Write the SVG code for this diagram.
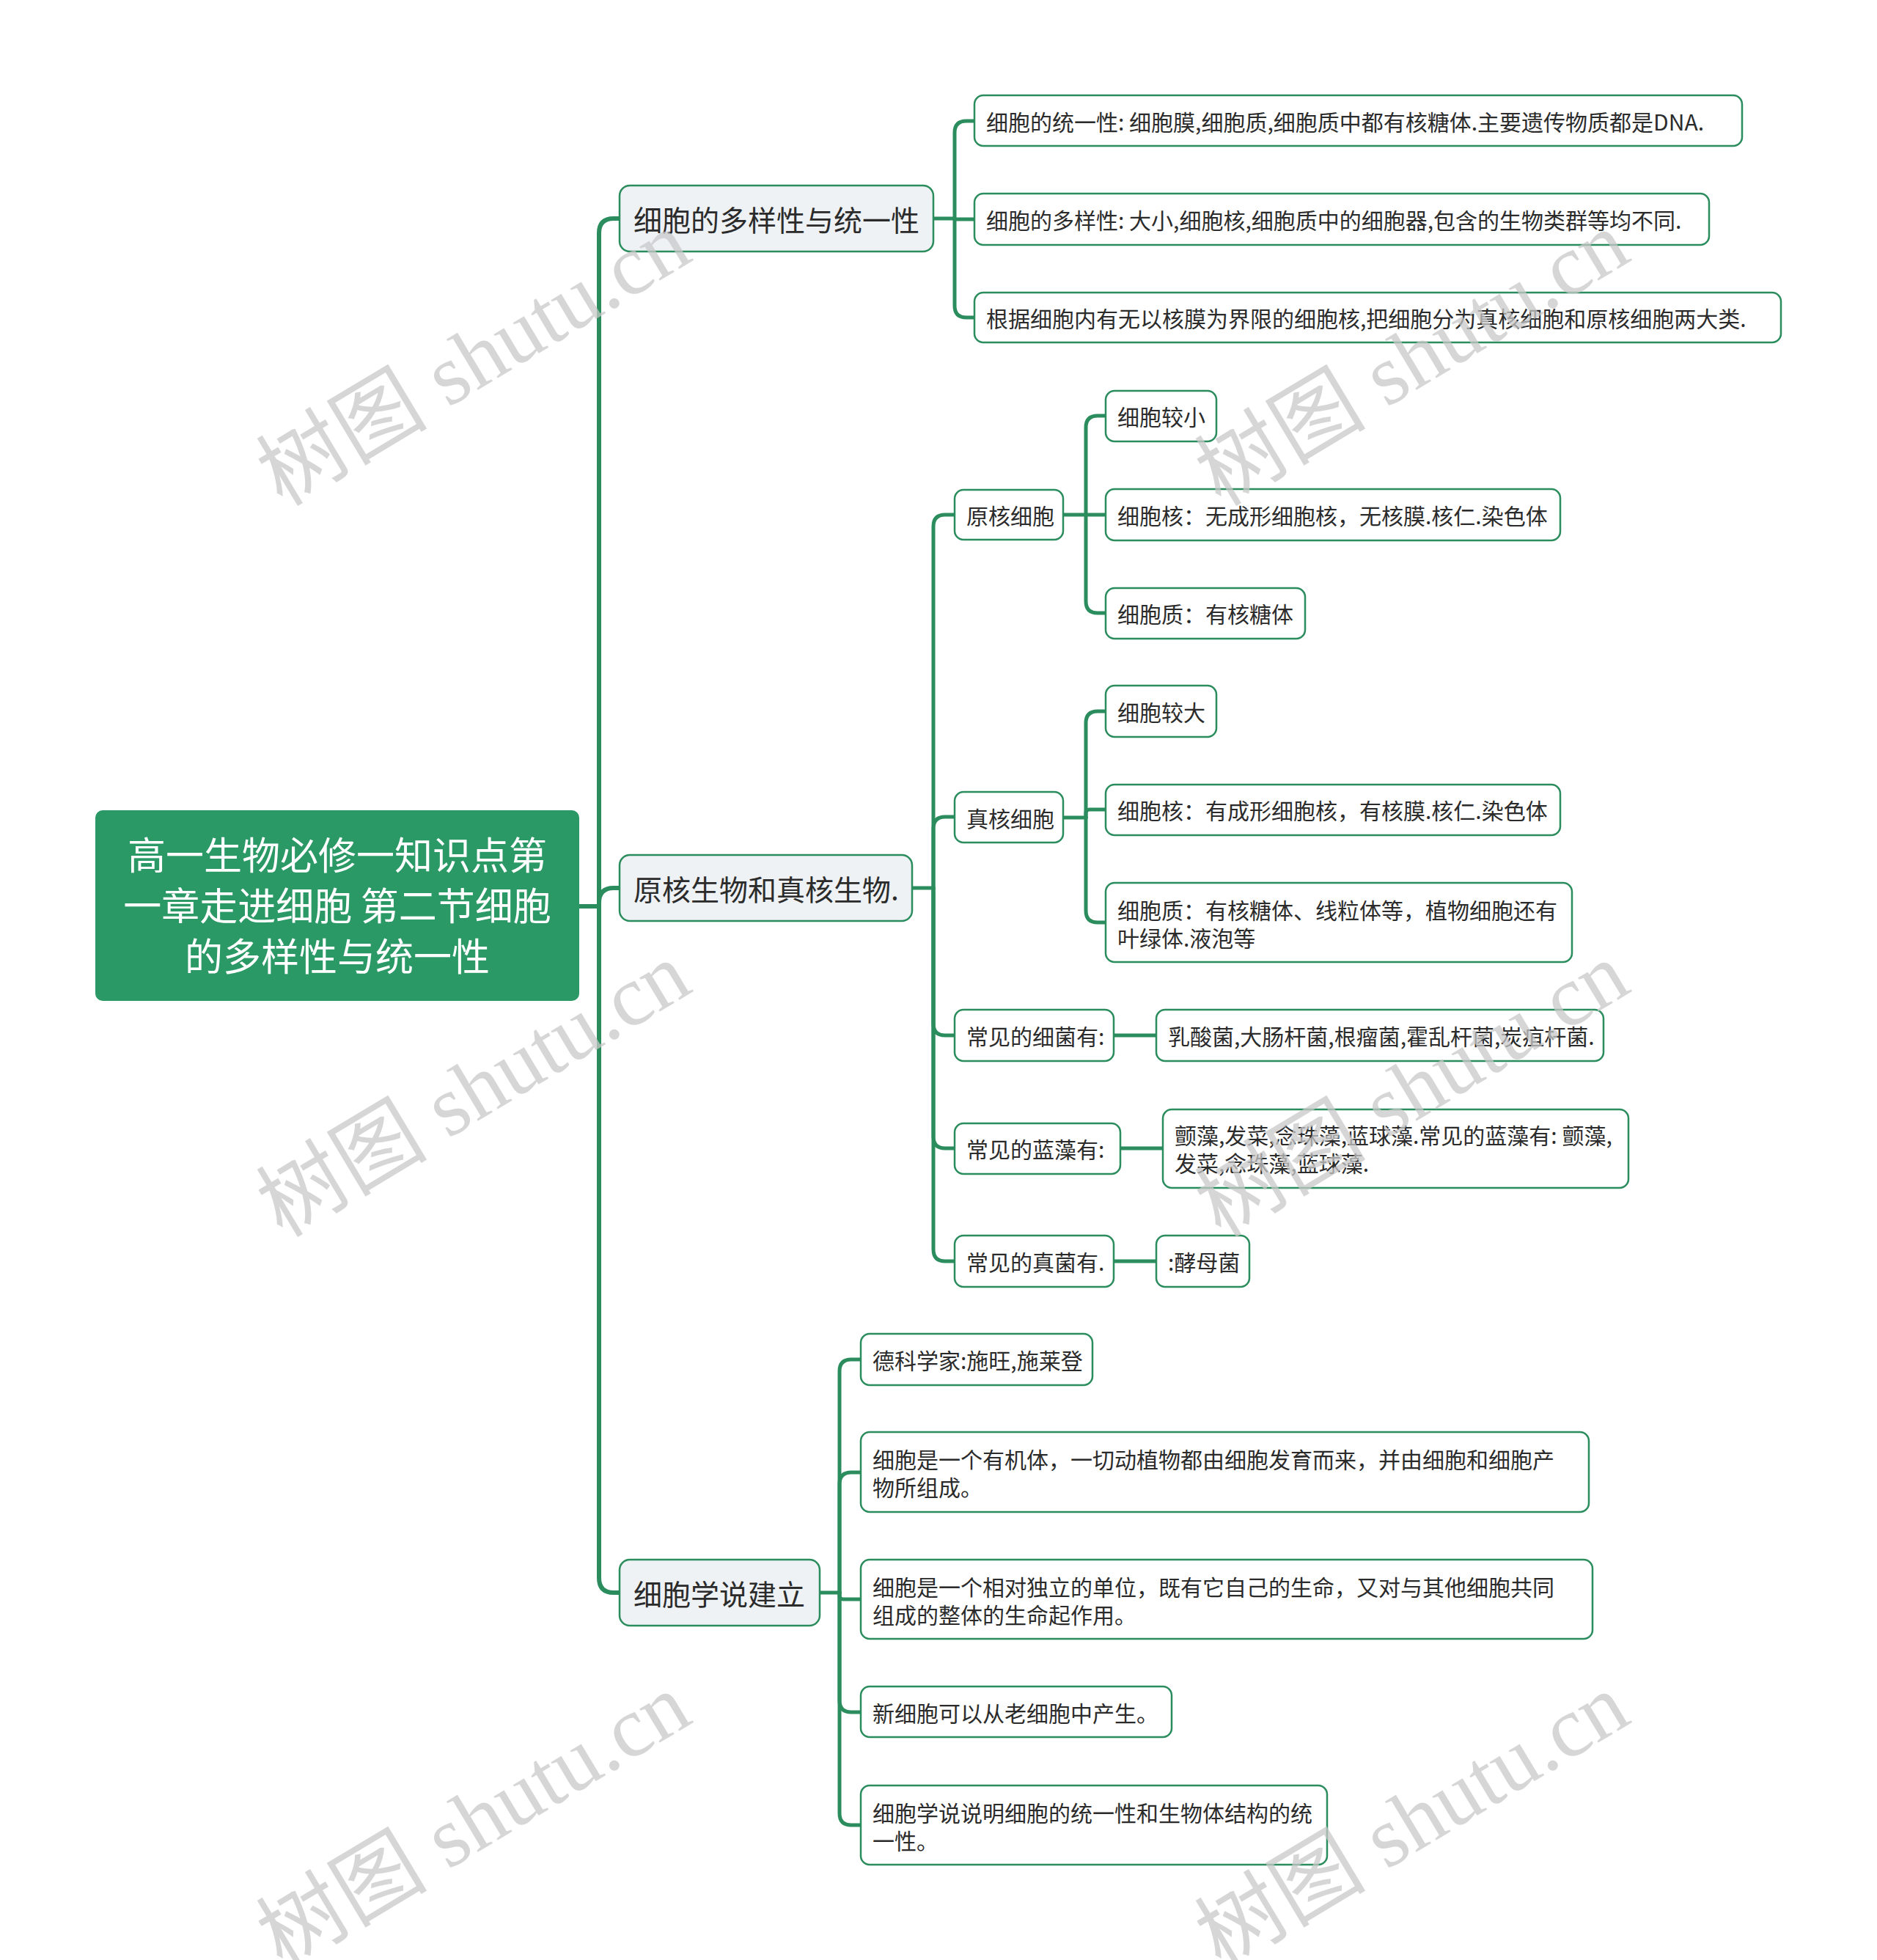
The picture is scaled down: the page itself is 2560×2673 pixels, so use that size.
<svg xmlns="http://www.w3.org/2000/svg" width="2560" height="2673" viewBox="0 0 2560 2673">
<defs>
<style>
.bg{fill:#ffffff}
.conn{fill:none;stroke:#2b8d5d;stroke-width:5;stroke-linecap:round;stroke-linejoin:round}
.trunk{fill:none;stroke:#2b8d5d;stroke-width:6;stroke-linecap:round;stroke-linejoin:round}
.box{fill:#ffffff;stroke:#2b8d5d;stroke-width:2.5}
.l1{fill:#eef2f5;stroke:#2b8d5d;stroke-width:2.5}
.root{fill:#2a9966}
.t{font-family:"Noto Sans CJK SC","Noto Sans",sans-serif;fill:#2b2b2b;dominant-baseline:central}
.t30{font-size:30px}
.t39{font-size:39px}
.rt{font-family:"Noto Sans CJK SC","Noto Sans",sans-serif;fill:#ffffff;font-size:52px;text-anchor:middle;dominant-baseline:central}
.wm{font-family:"Liberation Serif","Noto Sans CJK SC",serif;font-size:117px;fill:#c8c8c8;fill-opacity:0.75}
</style>
</defs>
<rect class="bg" x="0" y="0" width="2560" height="2673"/>

<g id="connectors">
  <path class="trunk" d="M790,1236 H817"/>
  <path class="trunk" d="M817,1236 V318 Q817,298 837,298 H845"/>
  <path class="trunk" d="M817,1236 V1231 Q817,1211 837,1211 H845"/>
  <path class="trunk" d="M817,1236 V2152 Q817,2172 837,2172 H845"/>
  <path class="conn" d="M1273,298 H1302"/>
  <path class="conn" d="M1302,298 V181 Q1302,165 1318,165 H1329"/>
  <path class="conn" d="M1302,298 V299 H1329"/>
  <path class="conn" d="M1302,298 V417 Q1302,433 1318,433 H1329"/>
  <path class="conn" d="M1244,1211 H1273"/>
  <path class="conn" d="M1273,1211 V718 Q1273,702 1289,702 H1302"/>
  <path class="conn" d="M1273,1211 V1130 Q1273,1114 1289,1114 H1302"/>
  <path class="conn" d="M1273,1211 V1396 Q1273,1412 1289,1412 H1302"/>
  <path class="conn" d="M1273,1211 V1550 Q1273,1566 1289,1566 H1302"/>
  <path class="conn" d="M1273,1211 V1704 Q1273,1720 1289,1720 H1302"/>
  <path class="conn" d="M1450,702 H1481"/>
  <path class="conn" d="M1481,702 V583 Q1481,567 1497,567 H1508"/>
  <path class="conn" d="M1481,702 H1508"/>
  <path class="conn" d="M1481,702 V820 Q1481,836 1497,836 H1508"/>
  <path class="conn" d="M1450,1115 H1481"/>
  <path class="conn" d="M1481,1115 V986 Q1481,970 1497,970 H1508"/>
  <path class="conn" d="M1481,1115 V1109 Q1481,1104 1486,1104 H1508"/>
  <path class="conn" d="M1481,1115 V1242 Q1481,1258 1497,1258 H1508"/>
  <path class="conn" d="M1519,1412 H1577"/>
  <path class="conn" d="M1528,1566 H1586"/>
  <path class="conn" d="M1519,1720 H1577"/>
  <path class="conn" d="M1118,2172 H1145"/>
  <path class="conn" d="M1145,2172 V1870 Q1145,1854 1161,1854 H1174"/>
  <path class="conn" d="M1145,2172 V2024 Q1145,2008 1161,2008 H1174"/>
  <path class="conn" d="M1145,2172 V2176 Q1145,2181 1150,2181 H1174"/>
  <path class="conn" d="M1145,2172 V2319 Q1145,2335 1161,2335 H1174"/>
  <path class="conn" d="M1145,2172 V2473 Q1145,2489 1161,2489 H1174"/>
</g>

<g id="root">
  <rect class="root" x="130" y="1105" width="660" height="260" rx="10"/>
  <text class="rt" x="460" y="1163">高一生物必修一知识点第</text>
  <text class="rt" x="460" y="1232">一章走进细胞 第二节细胞</text>
  <text class="rt" x="460" y="1301">的多样性与统一性</text>
</g>

<g id="n1">
  <rect class="l1" x="845" y="253" width="428" height="90" rx="14"/>
  <text class="t t39" x="864" y="298">细胞的多样性与统一性</text>
</g>
<g id="n1a">
  <rect class="box" x="1329" y="130" width="1047" height="69" rx="12"/>
  <text class="t t30" x="1345" y="165">细胞的统一性: 细胞膜,细胞质,细胞质中都有核糖体.主要遗传物质都是DNA.</text>
</g>
<g id="n1b">
  <rect class="box" x="1329" y="264" width="1002" height="70" rx="12"/>
  <text class="t t30" x="1345" y="299">细胞的多样性: 大小,细胞核,细胞质中的细胞器,包含的生物类群等均不同.</text>
</g>
<g id="n1c">
  <rect class="box" x="1329" y="399" width="1100" height="68" rx="12"/>
  <text class="t t30" x="1345" y="433">根据细胞内有无以核膜为界限的细胞核,把细胞分为真核细胞和原核细胞两大类.</text>
</g>

<g id="n2">
  <rect class="l1" x="845" y="1166" width="399" height="90" rx="14"/>
  <text class="t t39" x="864" y="1211">原核生物和真核生物.</text>
</g>
<g id="n2a">
  <rect class="box" x="1302" y="668" width="148" height="68" rx="12"/>
  <text class="t t30" x="1318" y="702">原核细胞</text>
</g>
<g id="n2a1">
  <rect class="box" x="1508" y="533" width="151" height="69" rx="12"/>
  <text class="t t30" x="1524" y="567">细胞较小</text>
</g>
<g id="n2a2">
  <rect class="box" x="1508" y="667" width="620" height="70" rx="12"/>
  <text class="t t30" x="1524" y="702">细胞核：无成形细胞核，无核膜.核仁.染色体</text>
</g>
<g id="n2a3">
  <rect class="box" x="1508" y="802" width="272" height="69" rx="12"/>
  <text class="t t30" x="1524" y="836">细胞质：有核糖体</text>
</g>

<g id="n2b">
  <rect class="box" x="1302" y="1080" width="148" height="69" rx="12"/>
  <text class="t t30" x="1318" y="1115">真核细胞</text>
</g>
<g id="n2b1">
  <rect class="box" x="1508" y="935" width="151" height="70" rx="12"/>
  <text class="t t30" x="1524" y="970">细胞较大</text>
</g>
<g id="n2b2">
  <rect class="box" x="1508" y="1070" width="620" height="69" rx="12"/>
  <text class="t t30" x="1524" y="1104">细胞核：有成形细胞核，有核膜.核仁.染色体</text>
</g>
<g id="n2b3">
  <rect class="box" x="1508" y="1204" width="636" height="108" rx="12"/>
  <text class="t t30" x="1524" y="1240">细胞质：有核糖体、线粒体等，植物细胞还有</text>
  <text class="t t30" x="1524" y="1278">叶绿体.液泡等</text>
</g>

<g id="n2c">
  <rect class="box" x="1302" y="1377" width="217" height="70" rx="12"/>
  <text class="t t30" x="1318" y="1412">常见的细菌有:</text>
</g>
<g id="n2c1">
  <rect class="box" x="1577" y="1377" width="610" height="70" rx="12"/>
  <text class="t t30" x="1593" y="1412">乳酸菌,大肠杆菌,根瘤菌,霍乱杆菌,炭疽杆菌.</text>
</g>
<g id="n2d">
  <rect class="box" x="1302" y="1532" width="226" height="69" rx="12"/>
  <text class="t t30" x="1318" y="1566">常见的蓝藻有:</text>
</g>
<g id="n2d1">
  <rect class="box" x="1586" y="1513" width="635" height="107" rx="12"/>
  <text class="t t30" x="1602" y="1547">颤藻,发菜,念珠藻,蓝球藻.常见的蓝藻有: 颤藻,</text>
  <text class="t t30" x="1602" y="1585">发菜,念珠藻,蓝球藻.</text>
</g>
<g id="n2e">
  <rect class="box" x="1302" y="1685" width="217" height="70" rx="12"/>
  <text class="t t30" x="1318" y="1720">常见的真菌有.</text>
</g>
<g id="n2e1">
  <rect class="box" x="1577" y="1685" width="127" height="70" rx="12"/>
  <text class="t t30" x="1593" y="1720">:酵母菌</text>
</g>

<g id="n3">
  <rect class="l1" x="845" y="2127" width="273" height="90" rx="14"/>
  <text class="t t39" x="864" y="2172">细胞学说建立</text>
</g>
<g id="n3a">
  <rect class="box" x="1174" y="1819" width="316" height="70" rx="12"/>
  <text class="t t30" x="1190" y="1854">德科学家:施旺,施莱登</text>
</g>
<g id="n3b">
  <rect class="box" x="1174" y="1953" width="993" height="109" rx="12"/>
  <text class="t t30" x="1190" y="1989">细胞是一个有机体，一切动植物都由细胞发育而来，并由细胞和细胞产</text>
  <text class="t t30" x="1190" y="2027">物所组成。</text>
</g>
<g id="n3c">
  <rect class="box" x="1174" y="2127" width="998" height="108" rx="12"/>
  <text class="t t30" x="1190" y="2163">细胞是一个相对独立的单位，既有它自己的生命，又对与其他细胞共同</text>
  <text class="t t30" x="1190" y="2201">组成的整体的生命起作用。</text>
</g>
<g id="n3d">
  <rect class="box" x="1174" y="2300" width="424" height="69" rx="12"/>
  <text class="t t30" x="1190" y="2335">新细胞可以从老细胞中产生。</text>
</g>
<g id="n3e">
  <rect class="box" x="1174" y="2435" width="636" height="108" rx="12"/>
  <text class="t t30" x="1190" y="2471">细胞学说说明细胞的统一性和生物体结构的统</text>
  <text class="t t30" x="1190" y="2509">一性。</text>
</g>

<g id="watermarks">
  <text class="wm" x="385" y="692" transform="rotate(-31 385 692)">树图 shutu.cn</text>
  <text class="wm" x="1665" y="692" transform="rotate(-31 1665 692)">树图 shutu.cn</text>
  <text class="wm" x="385" y="1689" transform="rotate(-31 385 1689)">树图 shutu.cn</text>
  <text class="wm" x="1665" y="1689" transform="rotate(-31 1665 1689)">树图 shutu.cn</text>
  <text class="wm" x="385" y="2686" transform="rotate(-31 385 2686)">树图 shutu.cn</text>
  <text class="wm" x="1665" y="2686" transform="rotate(-31 1665 2686)">树图 shutu.cn</text>
</g>
</svg>
